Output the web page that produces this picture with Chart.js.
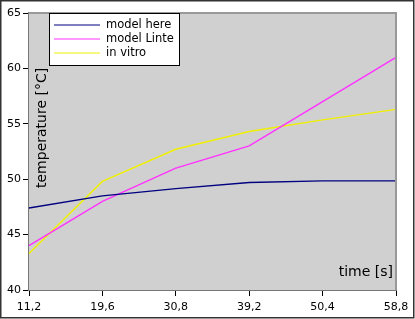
<!DOCTYPE html>
<html>
<head>
<meta charset="utf-8">
<title>temperature</title>
<style>
  body { margin: 0; background: #fff; }
  #wrap { width: 415px; height: 319px; }
</style>
</head>
<body>
<div id="wrap"><canvas id="myChart" width="415" height="319"></canvas></div>
<script src="https://cdn.jsdelivr.net/npm/chart.js@4/dist/chart.umd.min.js"></script>
<script>
    // x categories (time in s) and the three series
    const times = ["11,2", "19,6", "30,8", "39,2", "50,4", "58,8"];
    const modelHere = [47.4, 48.5, 49.15, 49.7, 49.85, 49.85];
    const modelLinte = [44.0, 48.0, 51.0, 53.0, 57.0, 61.0];
    const inVitro = [43.3, 49.8, 52.7, 54.3, 55.35, 56.3];
    const yTicks = [40, 45, 50, 55, 60, 65];
    const seriesNames = ['model here', 'model Linte', 'in vitro'];
    const seriesColors = ['#000080', '#ff33ff', '#f0f000'];

    const font = "DejaVu Sans";

    const framePlugin = {
        id: 'frame',
        beforeDatasetsDraw(chart) {
            const c = chart.ctx, a = chart.chartArea;
            c.save();
            c.fillStyle = '#d0d0d0';
            c.fillRect(a.left, a.top, a.right - a.left, a.bottom - a.top);
            c.restore();
        },
        afterDraw(chart) {
            const c = chart.ctx, a = chart.chartArea;
            c.save();
            // light frame top/right
            c.strokeStyle = '#999';
            c.lineWidth = 2;
            c.beginPath();
            c.moveTo(a.left, a.top);
            c.lineTo(a.right, a.top);
            c.lineTo(a.right, a.bottom);
            c.stroke();
            // axis titles inside the plot
            c.fillStyle = '#000';
            c.font = '14px "' + font + '"';
            c.textAlign = 'right';
            c.textBaseline = 'middle';
            c.fillText('time [s]', a.right - 3, 272);
            c.translate(42, 188);
            c.rotate(-Math.PI / 2);
            c.textAlign = 'left';
            c.fillText('temperature [°C]', 0, 0);
            c.restore();

            // legend box
            c.save();
            c.fillStyle = '#fff';
            c.fillRect(49, 13, 131, 53);
            c.strokeStyle = '#000';
            c.lineWidth = 1;
            c.strokeRect(49.5, 13.5, 130, 52);
            c.font = '11.5px "' + font + '"';
            c.textBaseline = 'middle';
            c.textAlign = 'left';
            seriesNames.forEach((name, i) => {
                const y = 25 + i * 14;
                c.strokeStyle = seriesColors[i];
                c.lineWidth = 1;
                c.beginPath();
                c.moveTo(54, y);
                c.lineTo(100, y);
                c.stroke();
                c.fillStyle = '#000';
                c.fillText(name, 106, y + 0.5);
            });
            c.restore();

            // outer border
            c.save();
            c.strokeStyle = '#333';
            c.lineWidth = 1.5;
            c.strokeRect(0.75, 0.75, 413, 317);
            c.restore();
        }
    };

    const ctx = document.getElementById('myChart').getContext('2d');
    const myChart = new Chart(ctx, {
        type: 'line',
        data: {
            labels: times,
            datasets: [
                { label: seriesNames[0], data: modelHere, borderColor: seriesColors[0] },
                { label: seriesNames[1], data: modelLinte, borderColor: seriesColors[1] },
                { label: seriesNames[2], data: inVitro, borderColor: seriesColors[2] }
            ]
        },
        options: {
            responsive: false,
            animation: false,
            devicePixelRatio: 1,
            layout: { padding: { left: 0, right: 19, top: 13, bottom: 0 } },
            elements: {
                line: { borderWidth: 1.4, tension: 0 },
                point: { radius: 0 }
            },
            plugins: {
                legend: { display: false },
                tooltip: { enabled: false }
            },
            scales: {
                x: {
                    offset: false,
                    grid: { drawOnChartArea: false, drawTicks: true, tickLength: 6, color: '#000' },
                    border: { color: '#777', width: 2 },
                    ticks: { color: '#000', font: { family: font, size: 11 }, padding: 5, maxRotation: 0, autoSkip: false },
                    afterFit(s) { s.height = 29; }
                },
                y: {
                    min: 40,
                    max: 65,
                    afterBuildTicks(s) { s.ticks = yTicks.map(v => ({ value: v })); },
                    grid: { drawOnChartArea: false, drawTicks: true, tickLength: 6, color: '#000' },
                    border: { color: '#777', width: 2 },
                    ticks: { color: '#000', font: { family: font, size: 11 }, padding: 2 },
                    afterFit(s) { s.width = 29; }
                }
            }
        },
        plugins: [framePlugin]
    });
</script>
</body>
</html>
